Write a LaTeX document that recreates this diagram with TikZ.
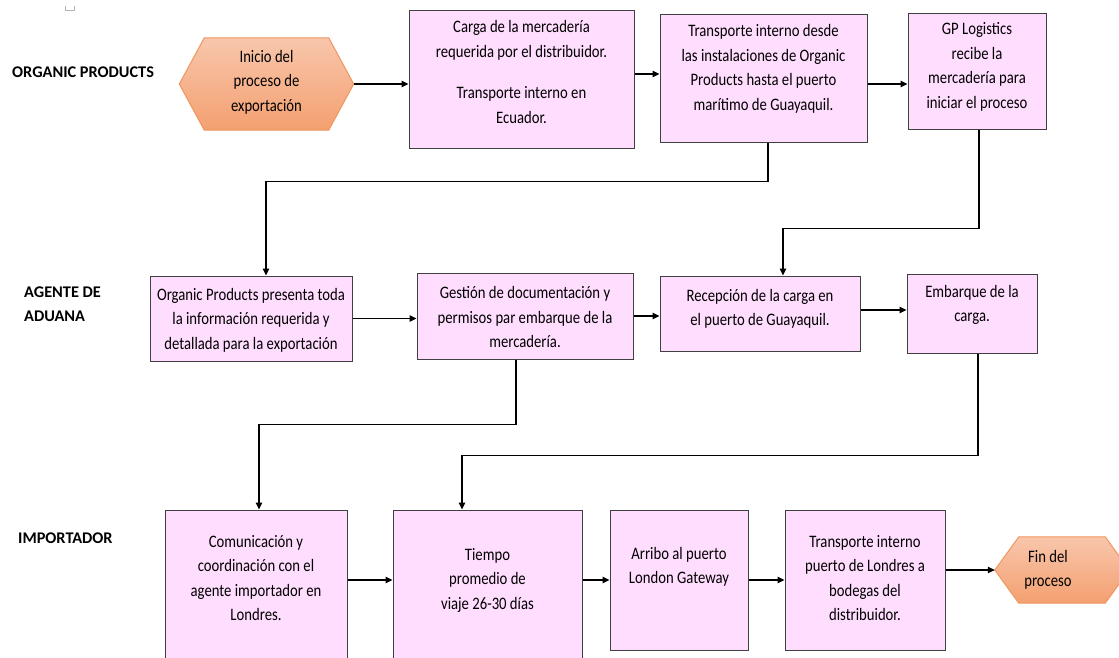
\documentclass[tikz,border=0pt]{standalone}
\usepackage{fontspec}
\setmainfont{Carlito}[FakeStretch=0.84]
\newfontfamily\lanefont{Carlito}
\usetikzlibrary{arrows.meta}
\definecolor{boxfill}{RGB}{255,221,254}
\definecolor{boxline}{RGB}{64,64,64}
\definecolor{hexline}{RGB}{240,150,92}
\definecolor{hextop}{RGB}{248,198,172}
\definecolor{hexbot}{RGB}{244,160,112}
\tikzset{
  stepbox/.style={draw=boxline, fill=boxfill, line width=1pt, inner sep=0pt, rectangle},
  hexbox/.style={inner sep=0pt, rectangle},
  hexfill/.style={draw=hexline, line width=1pt, top color=hextop, bottom color=hexbot},
  boxtext/.style={align=center, inner sep=0pt, font=\fontsize{17.5}{24.5}\selectfont},
  lane/.style={anchor=west, align=left, inner sep=0pt, font=\lanefont\bfseries\fontsize{16.3}{24}\selectfont},
  arr/.style={draw=black, line width=1.1pt, -{Triangle[length=7pt,width=6.5pt]}},
}
\begin{document}
\begin{tikzpicture}[x=1pt,y=-1pt]
\useasboundingbox (0,0) rectangle (1119,657);
\clip (0,0) rectangle (1119,657);
\fill[white] (0,0) rectangle (1119,657);

% small anchor mark in the corner
\draw[gray!60, line width=0.6pt] (65,6) -- (65,10) -- (74,10) -- (74,6);

% lane titles
\node[lane] (lop) at (12,72) {ORGANIC PRODUCTS};
\node[lane] (lag) at (24,304) {AGENTE DE\\ADUANA};
\node[lane] (lim) at (18,538) {IMPORTADOR};

% start and end hexagons
\node[hexbox, minimum width=174pt, minimum height=92pt] (start) at (266.5,84) {};
\path[hexfill] (start.west) -- ([xshift=25pt]start.north west) -- ([xshift=-25pt]start.north east)
  -- (start.east) -- ([xshift=-25pt]start.south east) -- ([xshift=25pt]start.south west) -- cycle;
\node[boxtext] (starttxt) at (266.5,82) {Inicio del\\proceso de\\exportación};

\node[hexbox, minimum width=134pt, minimum height=66pt] (finish) at (1062,570) {};
\path[hexfill] (finish.west) -- ([xshift=24pt]finish.north west) -- ([xshift=-24pt]finish.north east)
  -- (finish.east) -- ([xshift=-24pt]finish.south east) -- ([xshift=24pt]finish.south west) -- cycle;
\node[boxtext] (finishtxt) at (1048,570) {Fin del\\proceso};

% row 1: Organic Products
\node[stepbox, minimum width=225pt, minimum height=138pt] (a1) at (521.5,79) {};
\node[boxtext] (a1txt) at (521.5,72) {Carga de la mercadería\\requerida por el distribuidor.\\[17pt]Transporte interno en\\Ecuador.};
\node[stepbox, minimum width=207pt, minimum height=128pt] (a2) at (763.5,78) {};
\node[boxtext] (a2txt) at (763.5,69) {Transporte interno desde\\las instalaciones de Organic\\Products hasta el puerto\\marítimo de Guayaquil.};
\node[stepbox, minimum width=138pt, minimum height=116pt] (a3) at (977,71) {};
\node[boxtext] (a3txt) at (977,67) {GP Logistics\\recibe la\\mercadería para\\iniciar el proceso};

% row 2: customs agent
\node[stepbox, minimum width=202pt, minimum height=85pt] (b1) at (251,318.5) {};
\node[boxtext] (b1txt) at (251,320) {Organic Products presenta toda\\la información requerida y\\detallada para la exportación};
\node[stepbox, minimum width=216pt, minimum height=86pt] (b2) at (525,316) {};
\node[boxtext] (b2txt) at (525,317) {Gestión de documentación y\\permisos par embarque de la\\mercadería.};
\node[stepbox, minimum width=200pt, minimum height=75pt] (b3) at (760,313.5) {};
\node[boxtext] (b3txt) at (760,309) {Recepción de la carga en\\el puerto de Guayaquil.};
\node[stepbox, minimum width=130pt, minimum height=79pt] (b4) at (972,313.5) {};
\node[boxtext] (b4txt) at (972,305) {Embarque de la\\carga.};

% row 3: importer
\node[stepbox, minimum width=182pt, minimum height=190pt] (c1) at (256,605) {};
\node[boxtext] (c1txt) at (256,578) {Comunicación y\\coordinación con el\\agente importador en\\Londres.};
\node[stepbox, minimum width=189pt, minimum height=190pt] (c2) at (487.5,605) {};
\node[boxtext] (c2txt) at (487.5,580) {Tiempo\\promedio de\\viaje 26-30 días};
\node[stepbox, minimum width=138pt, minimum height=140pt] (c3) at (679,580) {};
\node[boxtext] (c3txt) at (679,567) {Arribo al puerto\\London Gateway};
\node[stepbox, minimum width=160pt, minimum height=140pt] (c4) at (865,580) {};
\node[boxtext] (c4txt) at (865,578) {Transporte interno\\puerto de Londres a\\bodegas del\\distribuidor.};

% straight connectors
\draw[arr] (start.east) -- (start.east -| a1.west);
\draw[arr] ([yshift=5pt]a1.east) -- ([yshift=5pt]a1.east -| a2.west);
\draw[arr] ([yshift=-6pt]a2.east) -- ([yshift=-6pt]a2.east -| a3.west);
\draw[arr] (b1.east) -- (b1.east -| b2.west);
\draw[arr] (b2.east) -- (b2.east -| b3.west);
\draw[arr] ([yshift=3.5pt]b3.east) -- ([yshift=3.5pt]b3.east -| b4.west);
\draw[arr] (c1.east |- c3.east) -- (c3.east -| c2.west);
\draw[arr] (c2.east |- c3.east) -- (c3.west);
\draw[arr] (c3.east) -- (c4.west);
\draw[arr] (c4.east |- finish.west) -- (finish.west);

% elbow connectors between rows
\draw[arr] ([xshift=4.5pt]a2.south) -- ++(0,39) -| ([xshift=15pt]b1.north);
\draw[arr] ([xshift=2pt]a3.south) -- ++(0,99) -| ([xshift=23pt]b3.north);
\draw[arr] ([xshift=-9pt]b2.south) -- ++(0,65) -| ([xshift=3pt]c1.north);
\draw[arr] ([xshift=6pt]b4.south) -- ++(0,102) -| ([xshift=-25.5pt]c2.north);
\end{tikzpicture}
\end{document}
